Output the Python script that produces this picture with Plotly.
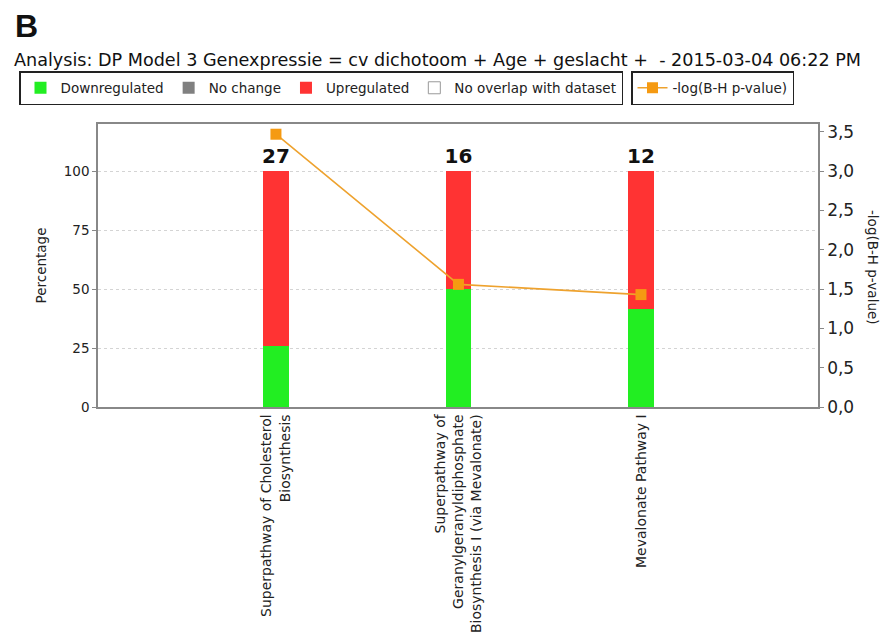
import plotly.graph_objects as go

# ---- data ----
categories = [
    "Superpathway of Cholesterol<br>Biosynthesis",
    "Superpathway of<br>Geranylgeranyldiphosphate<br>Biosynthesis I (via Mevalonate)",
    "Mevalonate Pathway I",
]
down_pct = [25.9, 50.0, 41.7]
nochange_pct = [None, None, None]
up_pct = [74.1, 50.0, 58.3]
nooverlap_pct = [None, None, None]
gene_counts = ["27", "16", "12"]
neglog_p = [3.47, 1.56, 1.43]

left_ticks = [0, 25, 50, 75, 100]
right_ticks = [0.0, 0.5, 1.0, 1.5, 2.0, 2.5, 3.0, 3.5]

GREEN = "#22ee22"
GRAY = "#808080"
RED = "#ff3333"
ORANGE = "#f59a12"
LINE_ORANGE = "#eea22e"
FONT = "DejaVu Sans"
W, H = 881, 635
L, R, T, B = 98, 63, 124, 228
PW, PH = W - L - R, H - T - B


def px(xp):
    return (xp - L) / PW


def py(yp):
    return (H - B - yp) / PH


fig = go.Figure()
bw = 0.14
fig.add_trace(go.Bar(x=categories, y=down_pct, name="Downregulated", width=bw,
                     marker=dict(color=GREEN, line=dict(width=0)), legend="legend"))
fig.add_trace(go.Bar(x=categories, y=nochange_pct, name="No change", width=bw,
                     marker=dict(color=GRAY, line=dict(width=0)), legend="legend"))
fig.add_trace(go.Bar(x=categories, y=up_pct, name="Upregulated", width=bw,
                     marker=dict(color=RED, line=dict(width=0)), legend="legend",
                     text=gene_counts, textposition="outside", constraintext="none",
                     cliponaxis=False,
                     textfont=dict(family="DejaVu Sans", size=20, color="#111",
                                   weight="bold")))
fig.add_trace(go.Bar(x=categories, y=nooverlap_pct, name="No overlap with dataset", width=bw,
                     marker=dict(color="white", line=dict(width=1, color="#999")), legend="legend"))
fig.add_trace(go.Scatter(x=categories, y=neglog_p, name="-log(B-H p-value)", yaxis="y2",
                         mode="lines+markers", cliponaxis=False,
                         line=dict(color=LINE_ORANGE, width=1.6),
                         marker=dict(symbol="square", size=11, color=ORANGE,
                                     line=dict(width=0)),
                         legend="legend2"))

fig.update_layout(
    width=W, height=H,
    margin=dict(l=L, r=R, t=T, b=B, autoexpand=False),
    paper_bgcolor="white", plot_bgcolor="white",
    barmode="stack",
    separators=",.",
    font=dict(family=FONT, color="#222"),
    showlegend=True,
    xaxis=dict(range=[-0.975, 2.97], tickangle=-90, showgrid=False, automargin=False,
               showline=True, linecolor="#888", linewidth=1.5, mirror=True,
               ticks="", tickfont=dict(size=14, family=FONT, color="#222")),
    yaxis=dict(range=[0, 120], tickvals=left_ticks, showgrid=True, automargin=False,
               gridcolor="#d4d4d4", griddash="dot", gridwidth=1.2,
               showline=True, linecolor="#888", linewidth=1.5,
               ticks="outside", ticklen=4, tickcolor="#888", zeroline=False,
               tickfont=dict(size=13.5, family=FONT, color="#222"),
               title=dict(text="Percentage", font=dict(size=13.5, family=FONT), standoff=14)),
    yaxis2=dict(range=[0, 3.6], tickvals=right_ticks, tickformat=".1f", automargin=False,
                overlaying="y", side="right", showgrid=False, zeroline=False,
                showline=True, linecolor="#888", linewidth=1.5,
                ticks="outside", ticklen=4, tickcolor="#888",
                tickfont=dict(size=17, family=FONT, color="#222")),
    legend=dict(orientation="h", xref="container", yref="container",
                x=19 / W, y=1 - 71 / H, xanchor="left", yanchor="top",
                bordercolor="#222", borderwidth=1.5, bgcolor="white",
                traceorder="normal",
                font=dict(size=13.5, family=FONT, color="#222"),
                itemclick=False, tracegroupgap=0),
    legend2=dict(orientation="h", xref="container", yref="container",
                 x=631 / W, y=1 - 71 / H, xanchor="left", yanchor="top",
                 bordercolor="#222", borderwidth=1.5, bgcolor="white",
                 font=dict(size=13.5, family=FONT, color="#222")),
    annotations=[
        dict(text="<b>B</b>", xref="paper", yref="paper", showarrow=False,
             x=px(13), y=py(6), xanchor="left", yanchor="top",
             font=dict(family="Liberation Sans", size=32, color="#111")),
        dict(text="Analysis: DP Model 3 Genexpressie = cv dichotoom + Age + geslacht +  - 2015-03-04 06:22 PM",
             xref="paper", yref="paper", showarrow=False,
             x=px(12), y=py(48), xanchor="left", yanchor="top",
             font=dict(family=FONT, size=17.6, color="#111")),
        dict(text="-log(B-H p-value)", xref="paper", yref="paper", showarrow=False,
             textangle=90, x=px(873), y=py(267),
             xanchor="center", yanchor="middle",
             font=dict(family=FONT, size=13.5, color="#222")),
    ],
)

fig.write_html("out.html")
